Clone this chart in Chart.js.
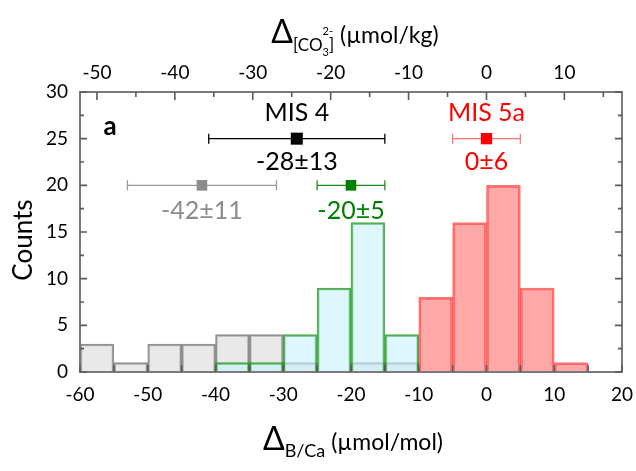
<!DOCTYPE html>
<html><head><meta charset="utf-8">
<script src="https://cdn.jsdelivr.net/npm/chart.js@4/dist/chart.umd.min.js"></script>
<style>html,body{margin:0;padding:0;background:#fff;}canvas{display:block;}</style>
</head><body>
<canvas id="c" width="636" height="471"></canvas>
<script>
// ---- data ----
const binCenters  = [-57.5,-52.5,-47.5,-42.5,-37.5,-32.5,-27.5,-22.5,-17.5,-12.5,-7.5,-2.5,2.5,7.5,12.5];
const countsGray  = [3,1,3,3,4,4,1,0,1,1,0,0,0,0,0];
const countsGreen = [0,0,0,0,1,1,4,9,16,4,0,0,0,0,0];
const countsRed   = [0,0,0,0,0,0,0,0,0,0,8,16,20,9,1];
const groupNames  = ['MIS 4','MIS 5a','',''];
const groupMeans  = [-28,0,-42,-20];
const groupErrors = [13,5,11,5];
const groupLevels = [25,25,20,20];
const groupLabels = ['-28±13','0±6','-42±11','-20±5'];
const bcaRange    = [-60,20];
const countRange  = [0,30];
const co3PerBCa   = 1/1.15;
const panelLetter = 'a';

// ---- styles ----
const FONT = 'Lato, "Liberation Sans", sans-serif';
const groupColors  = ['#000000','#ff0000','#8c8c8c','#008000'];
const whiskerColors= ['#000000','rgba(255,0,0,0.55)','#9a9a9a','#1e8f1e'];

const toXY = (counts) => binCenters.map((c,i)=>({x:c,y:counts[i]===0?null:counts[i]}));

const overlay = {
  id:'overlay',
  beforeDatasetsDraw(chart){
    const {ctx, scales:{x,y}} = chart;
    ctx.save();
    groupMeans.forEach((m,i)=>{
      const py = y.getPixelForValue(groupLevels[i]);
      const x1 = x.getPixelForValue(m-groupErrors[i]);
      const x2 = x.getPixelForValue(m+groupErrors[i]);
      ctx.strokeStyle = whiskerColors[i]; ctx.lineWidth = 1.3;
      ctx.beginPath();
      ctx.moveTo(x1,py); ctx.lineTo(x2,py);
      ctx.moveTo(x1,py-5); ctx.lineTo(x1,py+5);
      ctx.moveTo(x2,py-5); ctx.lineTo(x2,py+5);
      ctx.stroke();
    });
    ctx.restore();
  },
  afterDraw(chart){
    const {ctx, chartArea:a, scales:{x,y,x2}} = chart;
    ctx.save();
    // frame
    ctx.strokeStyle='#7a7a7a'; ctx.lineWidth=2;
    ctx.strokeRect(a.left,a.top,a.right-a.left,a.bottom-a.top);
    ctx.strokeStyle='#5a5a5a'; ctx.lineWidth=1.6;
    ctx.beginPath();
    for(let v=countRange[0]; v<=countRange[1]; v+=2.5){
      const py=y.getPixelForValue(v), len=(v%5===0)?7:4;
      ctx.moveTo(a.left,py); ctx.lineTo(a.left+len,py);
      ctx.moveTo(a.right,py); ctx.lineTo(a.right-len,py);
    }
    for(let v=bcaRange[0]; v<=bcaRange[1]; v+=5){
      const px=x.getPixelForValue(v);
      ctx.moveTo(px,a.bottom); ctx.lineTo(px,a.bottom-7);
    }
    for(let v=-50; v<=15; v+=5){
      const px=x2.getPixelForValue(v), len=(v%10===0)?8:5;
      ctx.moveTo(px,a.top); ctx.lineTo(px,a.top+len);
    }
    ctx.stroke();
    // group labels
    ctx.textAlign='center'; ctx.textBaseline='middle';
    groupMeans.forEach((m,i)=>{
      const px=x.getPixelForValue(m), py=y.getPixelForValue(groupLevels[i]);
      ctx.fillStyle=groupColors[i];
      ctx.font='25px '+FONT;
      if(groupNames[i]) ctx.fillText(groupNames[i], px, py-26);
      ctx.fillText(groupLabels[i], px, py+(groupLevels[i]===25?23:26));
    });
    // panel letter
    ctx.fillStyle='#000'; ctx.font='bold 26px '+FONT;
    ctx.fillText(panelLetter, 110, 127);
    // axis titles with sub/superscripts
    const runs = (list, cx, base) => {
      let w=0;
      list.forEach(r=>{ctx.font=r.s+'px '+FONT; r.w=r.adv===0?0:ctx.measureText(r.t).width; w+=r.w;});
      let xx=cx-w/2; ctx.textAlign='left'; ctx.textBaseline='alphabetic';
      list.forEach(r=>{ctx.font=r.s+'px '+FONT; ctx.fillText(r.t,xx,base+(r.dy||0)); xx+=r.w;});
    };
    ctx.fillStyle='#000';
    runs([{t:'\u0394',s:32},{t:'[CO',s:17,dy:8},{t:'2-',s:11,dy:-8,adv:0},{t:'3',s:11,dy:13},{t:']',s:17,dy:8},{t:' (\u00b5mol/kg)',s:23}], (a.left+a.right)/2+4, 43);
    runs([{t:'\u0394',s:32},{t:'B/Ca',s:18,dy:7},{t:' (\u00b5mol/mol)',s:23}], (a.left+a.right)/2+2, 450);
    // y title
    ctx.save(); ctx.translate(24,(a.top+a.bottom)/2+8); ctx.rotate(-Math.PI/2);
    ctx.textAlign='center'; ctx.textBaseline='middle'; ctx.font='26px '+FONT;
    ctx.fillText('Counts',0,0); ctx.restore();
    ctx.restore();
  }
};

const tickFont = {family:FONT, size:19};
new Chart(document.getElementById('c'), {
  type:'bar',
  data:{datasets:[
    {type:'scatter', data:groupMeans.map((m,i)=>({x:m,y:groupLevels[i]})),
     pointStyle:'rect', pointRadius:[8.5,8,7.5,7.5], pointBackgroundColor:groupColors, pointBorderWidth:0, order:0},
    {label:'MIS 5a', data:toXY(countsRed), backgroundColor:'rgba(255,70,70,0.47)', borderColor:'rgba(255,0,0,0.55)', borderWidth:2, order:1},
    {label:'MIS 4 low', data:toXY(countsGreen), backgroundColor:'rgba(200,240,252,0.6)', borderColor:'rgba(20,150,20,0.75)', borderWidth:2, order:2},
    {label:'MIS 4 all', data:toXY(countsGray), backgroundColor:'rgba(225,225,225,0.75)', borderColor:'rgba(110,110,110,0.75)', borderWidth:2, order:3}
  ]},
  options:{
    responsive:false, animation:false, events:[],
    layout:{padding:{left:0,right:0,top:0,bottom:0}},
    datasets:{bar:{barPercentage:1, categoryPercentage:1, grouped:false, borderSkipped:'bottom'}},
    plugins:{legend:{display:false}, tooltip:{enabled:false}},
    scales:{
      x:{type:'linear', position:'bottom', min:bcaRange[0], max:bcaRange[1], offset:false,
         grid:{display:false, offset:false}, border:{display:false},
         ticks:{stepSize:10, padding:3, color:'#000', font:tickFont, maxRotation:0, includeBounds:false},
         afterFit(s){s.height=99;}},
      x2:{type:'linear', position:'top', min:bcaRange[0]*co3PerBCa, max:bcaRange[1]*co3PerBCa, offset:false,
         grid:{display:false}, border:{display:false},
         ticks:{stepSize:10, padding:0, color:'#000', font:tickFont, maxRotation:0, includeBounds:false},
         afterFit(s){s.height=92;}},
      y:{type:'linear', min:countRange[0], max:countRange[1],
         grid:{display:false}, border:{display:false},
         ticks:{stepSize:5, padding:4, color:'#000', font:tickFont},
         afterFit(s){s.width=80;}}
    }
  },
  plugins:[overlay]
});
</script>
</body></html>
